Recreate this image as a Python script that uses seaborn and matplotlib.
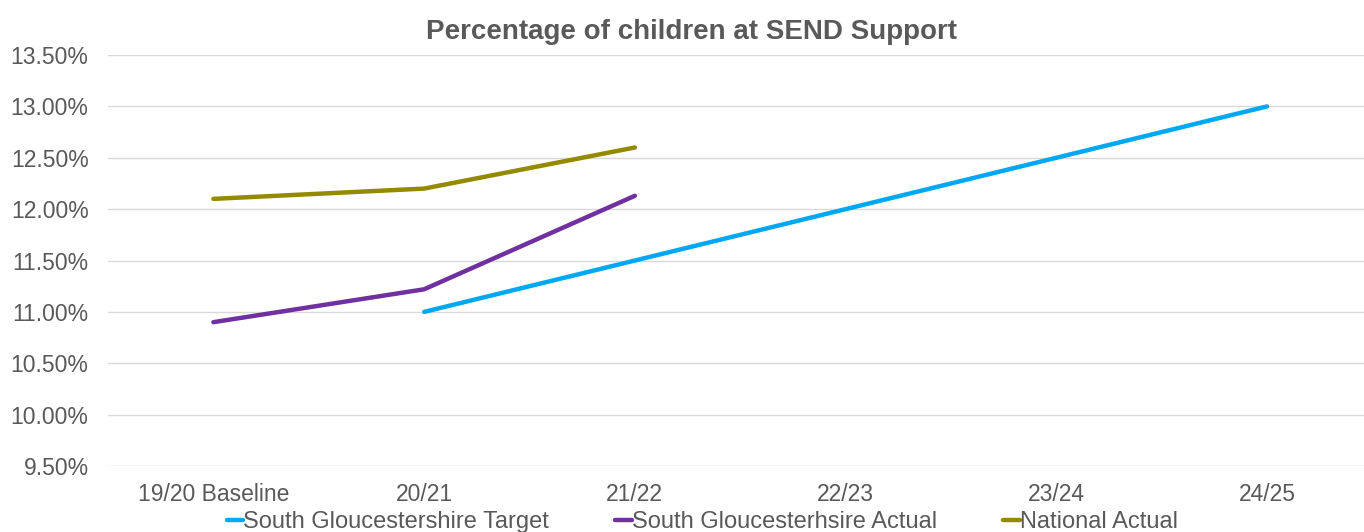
import matplotlib
matplotlib.use("Agg")
import matplotlib.pyplot as plt
import matplotlib.ticker as mticker
from matplotlib.lines import Line2D
import numpy as np
import pandas as pd
import seaborn as sns

years = ["19/20 Baseline", "20/21", "21/22", "22/23", "23/24", "24/25"]
target = [np.nan, 11.0, 11.5, 12.0, 12.5, 13.0]
sg_actual = [10.90, 11.22, 12.13, np.nan, np.nan, np.nan]
national = [12.10, 12.20, 12.60, np.nan, np.nan, np.nan]

series_names = ["South Gloucestershire Target", "South Gloucesterhsire Actual", "National Actual"]
colors = ["#00A8F3", "#7030A0", "#948A00"]

df = pd.concat([
    pd.DataFrame({"year": years, "pos": range(len(years)), "value": vals, "series": name})
    for name, vals in zip(series_names, [target, sg_actual, national])
]).dropna()

sns.set_theme(style="white")
plt.rcParams["font.family"] = ["Liberation Sans", "DejaVu Sans"]

fig = plt.figure(figsize=(13.64, 5.32), dpi=100)
ax = fig.add_axes([0.0792, 0.124, 0.9208, 0.7726])

sns.lineplot(data=df, x="pos", y="value", hue="series", hue_order=series_names,
             palette=colors, linewidth=3.2, ax=ax, legend=False, sort=False)

ax.set_xlim(-0.5, 5.46)
ax.set_ylim(9.5, 13.5)
ax.set_yticks(np.arange(9.5, 13.51, 0.5))
ax.yaxis.set_major_formatter(mticker.FuncFormatter(lambda v, p: f"{v:.2f}%"))
ax.set_xticks(range(len(years)))
ax.set_xticklabels(years)
ax.grid(axis="y", color="#D9D9D9", linewidth=1)
ax.set_axisbelow(True)
for s in ax.spines.values():
    s.set_visible(False)
ax.tick_params(axis="both", labelsize=16.5, colors="#595959", length=0)
ax.tick_params(axis="y", pad=14)
ax.tick_params(axis="x", pad=12)
ax.set_xlabel("")
ax.set_ylabel("")

fig.suptitle("Percentage of children at SEND Support", x=0.507, y=0.965,
             fontsize=20, fontweight="bold", color="#595959")

handles = [Line2D([0], [0], color=c, linewidth=3.2) for c in colors]
leg = ax.legend(handles, series_names, loc="center", bbox_to_anchor=(0.473, -0.137),
                ncol=3, frameon=False, fontsize=17, handlelength=0.7,
                handletextpad=0.0, columnspacing=2.8, labelcolor="#595959")

fig.savefig("out.png", dpi=100)
